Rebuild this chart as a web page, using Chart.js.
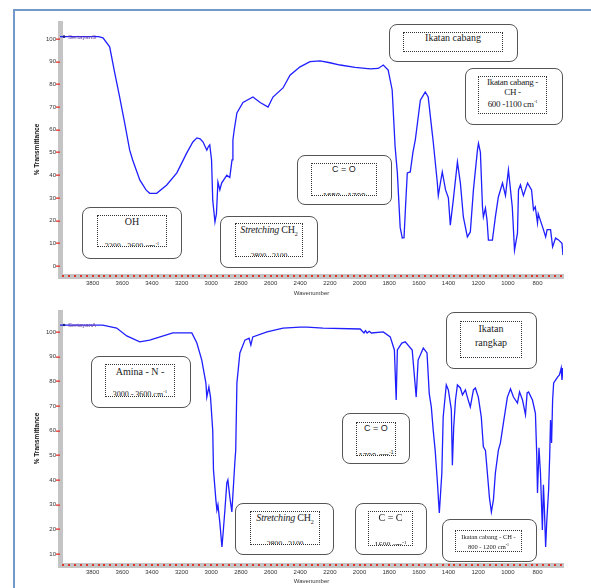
<!DOCTYPE html>
<html>
<head>
<meta charset="utf-8">
<script src="https://cdn.jsdelivr.net/npm/chart.js@4.4.1/dist/chart.umd.min.js"></script>
<style>
  html, body { margin: 0; padding: 0; background: #fff; }
  #page { position: relative; width: 591px; height: 588px; overflow: hidden; }
  #frame { position: absolute; left: 13px; top: 9px; width: 620px; height: 620px;
    border-left: 2px solid #7399cb; border-top: 2px solid #7399cb; }
  .wrap { position: absolute; left: 0; width: 591px; }
  #top-wrap { top: 0; height: 300px; }
  #bottom-wrap { top: 300px; height: 288px; }
  .box { position: absolute; border: 1.5px solid #555; border-radius: 8px; background: #fff; box-sizing: border-box; }
  .inner { position: absolute; border: 1px dotted #333; box-sizing: border-box; overflow: hidden;
    text-align: center; font-family: "Liberation Serif", serif; font-size: 10px; line-height: 11px; color: #222; white-space: nowrap; }
  .sans { font-family: "Liberation Sans", Arial, sans-serif; font-size: 9px; }
  .cut { position: absolute; left: 0; right: 0; bottom: -6px; font-size: 8px; }
</style>
</head>
<body>
<div id="page">
  <div id="frame"></div>
  <div class="wrap" id="top-wrap"><canvas id="spectrum-top" width="591" height="300"></canvas></div>
  <div class="wrap" id="bottom-wrap"><canvas id="spectrum-bottom" width="591" height="288"></canvas></div>

  <!-- top spectrum notes -->
  <div class="box" style="left:389px;top:24px;width:129px;height:38px;">
    <div class="inner" style="left:13px;top:7px;width:100px;height:20px;line-height:10px;">Ikatan cabang</div>
  </div>
  <div class="box" style="left:465px;top:68px;width:98px;height:57px;">
    <div class="inner" style="left:12px;top:7px;width:69px;height:38px;font-size:9px;line-height:10px;letter-spacing:-0.3px;">Ikatan cabang -<br>CH -<br>600 -1100 cm<sup style="font-size:5px">-1</sup></div>
  </div>
  <div class="box" style="left:297px;top:155px;width:95px;height:50px;">
    <div class="inner sans" style="left:13px;top:7px;width:66px;height:33px;">C = O<div class="cut">1650 - 1700</div></div>
  </div>
  <div class="box" style="left:220px;top:216px;width:98px;height:52px;">
    <div class="inner" style="left:14px;top:6px;width:68px;height:34px;letter-spacing:-0.2px;"><i>Stretching</i> CH<sub style="font-size:6px">2</sub><div class="cut">2800 - 3100</div></div>
  </div>
  <div class="box" style="left:82px;top:207px;width:100px;height:52px;">
    <div class="inner" style="left:14px;top:7px;width:70px;height:32px;">OH<div class="cut">3200 - 3600 cm<sup style="font-size:5px">-1</sup></div></div>
  </div>

  <!-- bottom spectrum notes -->
  <div class="box" style="left:91px;top:356px;width:100px;height:52px;">
    <div class="inner" style="left:13px;top:7px;width:70px;height:33px;line-height:14px;">Amina - N -<div class="cut">3000 - 3600 cm<sup style="font-size:5px">-1</sup></div></div>
  </div>
  <div class="box" style="left:446px;top:312px;width:91px;height:57px;">
    <div class="inner" style="left:13px;top:8px;width:62px;height:37px;line-height:14px;">Ikatan<br>rangkap</div>
  </div>
  <div class="box" style="left:342px;top:413px;width:68px;height:51px;">
    <div class="inner sans" style="left:13px;top:8px;width:40px;height:34px;">C = O<div class="cut">1700 cm<sup style="font-size:5px">-1</sup></div></div>
  </div>
  <div class="box" style="left:235px;top:503px;width:99px;height:52px;">
    <div class="inner" style="left:14px;top:7px;width:70px;height:34px;letter-spacing:-0.2px;"><i>Stretching</i> CH<sub style="font-size:6px">2</sub><div class="cut">2800 - 3100</div></div>
  </div>
  <div class="box" style="left:355px;top:503px;width:72px;height:52px;">
    <div class="inner" style="left:12px;top:7px;width:45px;height:35px;">C = C<div class="cut">1600 cm<sup style="font-size:5px">-1</sup></div></div>
  </div>
  <div class="box" style="left:442px;top:519px;width:95px;height:43px;">
    <div class="inner" style="left:12px;top:10px;width:67px;height:22px;font-size:6.5px;line-height:7.5px;padding-top:2px;">Ikatan cabang - CH -<br>800 - 1200 cm<sup style="font-size:4px">-1</sup></div>
  </div>
</div>

<script>
const $topCtx = document.getElementById("spectrum-top");
const $bottomCtx = document.getElementById("spectrum-bottom");

const TOP_NAME = "SertayanS";
const BOTTOM_NAME = "SertayanA";

const X_TICK_LABELS = [3800, 3600, 3400, 3200, 3000, 2800, 2600, 2400, 2200, 2000, 1800, 1600, 1400, 1200, 1000, 800];
const TOP_Y_TICKS = [0, 10, 20, 30, 40, 50, 60, 70, 80, 90, 100];
const BOTTOM_Y_TICKS = [10, 20, 30, 40, 50, 60, 70, 80, 90, 100];

const topWavenumber = [
  4020, 3760, 3730, 3685, 3651, 3618, 3584, 3550, 3530, 3482, 3440, 3415, 3368, 3300, 3232, 3165, 3124, 3097,
  3075, 3055, 3030, 3020, 3010, 2998, 2990, 2975, 2965, 2955, 2942, 2930, 2895, 2875, 2860, 2854, 2845, 2827,
  2786, 2719, 2670, 2617, 2584, 2516, 2469, 2401, 2334, 2266, 2200, 2131, 2030, 1928, 1874, 1840, 1807, 1780,
  1760, 1745, 1726, 1712, 1700, 1690, 1678, 1658, 1640, 1624, 1590, 1557, 1537, 1510, 1503, 1476, 1469, 1455,
  1442, 1420, 1401, 1388, 1368, 1340, 1320, 1300, 1273, 1253, 1232, 1205, 1198, 1185, 1171, 1165, 1151, 1140,
  1131, 1104, 1084, 1064, 1036, 1016, 996, 970, 955, 935, 928, 915, 895, 867, 840, 827, 815, 800, 795, 780,
  760, 745, 735, 712, 698, 678, 658, 635, 628,
];
const topTransmittance = [
  101, 101, 100.5, 96.5, 85, 74.5, 63, 51, 46.7, 37.9, 33.5, 32, 32, 35.7, 41, 49.8, 54.6, 56.4,
  56, 54.6, 51, 52.5, 53.3, 46.7, 29, 19.4, 23, 37, 33.5, 36.5, 40, 39, 46.7, 55.5, 60, 67.4,
  72, 74.4, 72, 70, 74.4, 78.4, 84, 87.7, 90, 90.3, 89.5, 88.5, 87.5, 86.8, 87, 88.5, 86.3, 77.5,
  52.4, 41, 17, 12.3, 12.5, 26, 41, 41.4, 50, 55.5, 73, 76.6, 74.4, 58.6, 54.6, 37, 31, 36.5,
  41.4, 33.5, 30, 18, 29, 45.8, 36.5, 21.6, 12.8, 15, 33.5, 51, 54, 50, 26, 21.6, 25.5, 20,
  11.4, 11.4, 21.6, 30.4, 36.5, 31, 42.3, 26, 7, 14.5, 33.5, 35.7, 31, 36.5, 33.5, 24.7, 26, 19, 23, 20,
  16, 12.8, 16, 16, 8.4, 12.3, 11.5, 10, 4.8,
];

const bottomWavenumber = [
  4020, 3732, 3638, 3570, 3482, 3415, 3259, 3131, 3097, 3064, 3036, 3030, 3016, 3005, 2990, 2985, 2969, 2962,
  2955, 2942, 2928, 2920, 2908, 2895, 2888, 2875, 2861, 2852, 2840, 2835, 2827, 2807, 2773, 2745, 2733, 2720,
  2624, 2516, 2401, 2354, 2246, 1996, 1970, 1960, 1949, 1935, 1920, 1840, 1793, 1765, 1753, 1745, 1715, 1692,
  1645, 1618, 1605, 1570, 1545, 1530, 1516, 1503, 1490, 1476, 1462, 1445, 1436, 1415, 1401, 1381, 1374, 1365,
  1353, 1340, 1320, 1306, 1286, 1273, 1253, 1232, 1219, 1199, 1179, 1165, 1151, 1138, 1124, 1111, 1097, 1084,
  1064, 1050, 1030, 1003, 982, 962, 935, 921, 901, 881, 870, 860, 834, 814, 805, 800, 790, 780, 767, 760,
  754, 745, 738, 725, 718, 712, 705, 698, 691, 665, 652, 640, 635, 628,
];
const bottomTransmittance = [
  102.8, 102.8, 101.6, 98.4, 96, 96.7, 99.6, 99.6, 95.5, 88.6, 79.3, 73.6, 77.7, 73.6, 60, 44, 32, 27.8,
  29.9, 22.6, 12.8, 18.5, 27.8, 38.8, 40, 33.1, 27, 36, 48, 52, 79.3, 91.5, 96.7, 97.5, 94.7, 98,
  100, 101.6, 102, 102, 101.6, 101.2, 99.6, 100.5, 99.6, 100.3, 99.6, 100, 98, 92.7, 72.4, 92.7, 95.5, 96,
  92.7, 73.6, 88.6, 93.5, 91.5, 75, 69.6, 60, 52, 40, 26.6, 42.8, 65.5, 78.5, 76.5, 68.4, 46, 61.5,
  72.4, 78.5, 77.3, 74.5, 76.5, 73.6, 69.6, 76.5, 77.3, 73.6, 65.5, 53.4, 52, 42.8, 32.7, 27, 32, 42.8,
  52, 55, 63, 73.6, 76.9, 73.6, 71.2, 75.7, 72.4, 66.4, 75.3, 75.7, 72.4, 67, 50, 34.7, 53, 42.8, 19.7, 38,
  29, 12.8, 22.6, 36, 49.3, 64.3, 55, 72.4, 79.3, 81.7, 82.6, 85.4, 80.5, 85.4,
];

// little red tick dashes sitting on the grey axis bars
const redTicks = {
  id: "redTicks",
  afterDraw(chart) {
    const { ctx, chartArea, scales } = chart;
    ctx.save();
    ctx.fillStyle = "#e4332b";
    scales.x.ticks.forEach((t) => {
      const px = scales.x.getPixelForValue(t.value);
      ctx.fillRect(Math.round(px) - 1, chartArea.bottom - 1, 2, 2);
    });
    scales.y.ticks.forEach((t) => {
      const py = scales.y.getPixelForValue(t.value);
      ctx.fillRect(chartArea.left - 4, Math.round(py) - 0.5, 4, 1.3);
    });
    ctx.restore();
  },
};

// sample name written at the start of the trace
const seriesTag = {
  id: "seriesTag",
  afterDatasetsDraw(chart, args, opts) {
    const { ctx, chartArea, scales } = chart;
    const data = chart.data.datasets[0].data;
    const py = scales.y.getPixelForValue(data[0].y);
    ctx.save();
    ctx.fillStyle = "#202080";
    ctx.beginPath();
    ctx.arc(chartArea.left + 4, py, 1.3, 0, Math.PI * 2);
    ctx.fill();
    ctx.fillStyle = "#6a3fa0";
    ctx.font = "6px 'Liberation Sans', Arial";
    ctx.textBaseline = "middle";
    ctx.fillText(opts.text, chartArea.left + 8, py + 0.5);
    ctx.restore();
  },
};

setupSpectrum($topCtx, topWavenumber, topTransmittance, TOP_Y_TICKS, -4.4, 107, 23, 24, TOP_NAME);
setupSpectrum($bottomCtx, bottomWavenumber, bottomTransmittance, BOTTOM_Y_TICKS, 5.5, 108.1, 12, 23, BOTTOM_NAME);

function setupSpectrum(canvas, wn, trans, yTicks, yMin, yMax, padTop, xAxisHeight, name) {
  const points = wn.map((w, i) => ({ x: w, y: trans[i] }));

  new Chart(canvas, {
    type: "line",
    data: {
      datasets: [
        {
          label: name,
          data: points,
          borderColor: "#1f1fff",
          borderWidth: 1.3,
          pointRadius: 0,
          tension: 0,
          fill: false,
        },
      ],
    },
    plugins: [redTicks, seriesTag],
    options: {
      responsive: false,
      animation: false,
      devicePixelRatio: 1,
      layout: { padding: { left: 14, right: 28, top: padTop, bottom: 0 } },
      plugins: {
        legend: { display: false },
        tooltip: { enabled: false },
        seriesTag: { text: name },
      },
      scales: {
        x: {
          type: "linear",
          reverse: true,
          min: 628,
          max: 4020,
          afterBuildTicks: (scale) => {
            const ticks = [];
            for (let v = 4000; v >= 640; v -= 40) ticks.push({ value: v });
            scale.ticks = ticks;
          },
          afterFit: (scale) => {
            scale.height = xAxisHeight;
          },
          grid: { display: false, drawTicks: false },
          border: { display: true, color: "#c4c4c4", width: 5 },
          ticks: {
            autoSkip: false,
            maxRotation: 0,
            padding: 4,
            color: "#333",
            font: { size: 6, family: "'Liberation Sans', Arial" },
            callback: (v) => (X_TICK_LABELS.includes(v) ? String(v) : ""),
          },
          title: {
            display: true,
            text: "Wavenumber",
            color: "#333",
            font: { size: 6, family: "'Liberation Sans', Arial" },
            padding: { top: 0, bottom: 3 },
          },
        },
        y: {
          min: yMin,
          max: yMax,
          afterBuildTicks: (scale) => {
            scale.ticks = yTicks.map((v) => ({ value: v }));
          },
          afterFit: (scale) => {
            scale.width = 46;
          },
          grid: { display: false, drawTicks: false },
          border: { display: true, color: "#c4c4c4", width: 5 },
          ticks: {
            padding: 4,
            color: "#333",
            font: { size: 6, family: "'Liberation Sans', Arial" },
          },
          title: {
            display: true,
            text: "% Transmittance",
            color: "#111",
            font: { size: 6.5, weight: "bold", family: "'Liberation Sans', Arial" },
            padding: { top: 19, bottom: 0 },
          },
        },
      },
    },
  });
}
</script>
</body>
</html>
